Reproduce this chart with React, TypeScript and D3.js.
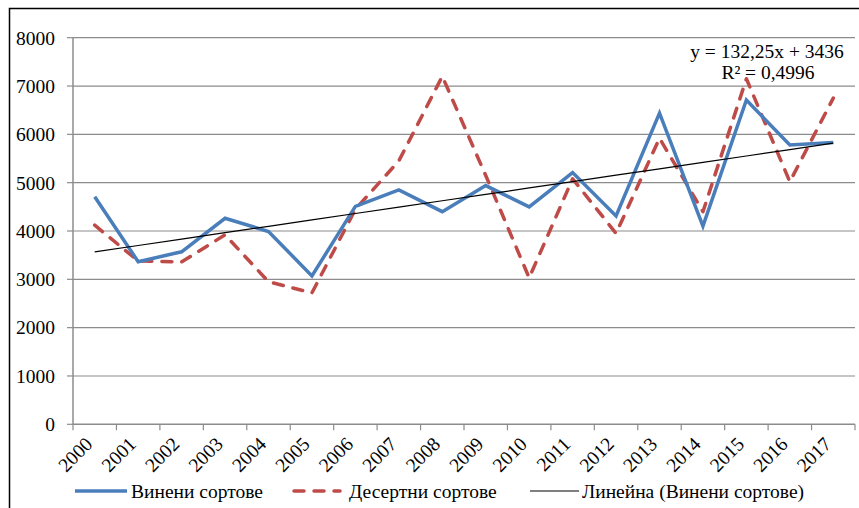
import React from "react";
import * as d3 from "d3";

// Data
const years = [
  "2000", "2001", "2002", "2003", "2004", "2005", "2006", "2007", "2008",
  "2009", "2010", "2011", "2012", "2013", "2014", "2015", "2016", "2017",
];
const wineValues = [
  4710, 3365, 3570, 4263, 3990, 3070, 4510, 4850, 4400,
  4940, 4500, 5210, 4310, 6440, 4100, 6710, 5780, 5830,
];
const dessertValues = [
  4120, 3380, 3360, 3920, 2950, 2720, 4450, 5450, 7200,
  5150, 3030, 5080, 3950, 5920, 4400, 7150, 5020, 6750,
];
const yTicks = [0, 1000, 2000, 3000, 4000, 5000, 6000, 7000, 8000];
// Linear trend of the wine series, as printed on the chart
const trendSlope = 132.25;
const trendIntercept = 3436;
const trendLabel = "y = 132,25x + 3436";
const r2Label = "R² = 0,4996";
const legendLabels = ["Винени сортове", "Десертни сортове", "Линейна (Винени сортове)"];

const BLUE = "#4A7EBB";
const RED = "#BE4B48";
const GRID = "#8C8C8C";
const FONT = "'Liberation Serif', 'Times New Roman', serif";
const FS = 19.5;

const App: React.FC = () => {
  const width = 859;
  const height = 508;
  const margin = { top: 37.7, right: 4, bottom: 83.7, left: 73 };
  const innerBottom = height - margin.bottom;
  const innerRight = width - margin.right;

  const x = d3
    .scaleBand<string>()
    .domain(years)
    .range([margin.left, innerRight]);
  const cx = (d: string) => (x(d) || 0) + x.bandwidth() / 2;

  const y = d3.scaleLinear().domain([0, 8000]).range([innerBottom, margin.top]);

  const line = d3
    .line<number>()
    .x((_, i) => cx(years[i]))
    .y((d) => y(d));

  const trend = years.map((_, i) => trendSlope * (i + 1) + trendIntercept);

  // category boundary ticks
  const boundaries = years.map((d) => x(d) || 0).concat([innerRight]);

  return (
    <svg
      width={width}
      height={height}
      style={{ position: "absolute", left: 0, top: 0, background: "#fff" }}
      fontFamily={FONT}
    >
      {/* outer frame */}
      <rect x={9.5} y={8.5} width={870} height={520} fill="none" stroke="#000" strokeWidth={1.5} />

      {/* gridlines */}
      {yTicks.slice(1).map((t) => (
        <line key={t} x1={margin.left} x2={innerRight} y1={y(t)} y2={y(t)} stroke={GRID} strokeWidth={1.2} />
      ))}

      {/* y axis */}
      <line x1={margin.left} x2={margin.left} y1={margin.top} y2={innerBottom} stroke={GRID} strokeWidth={1.5} />
      {yTicks.map((t) => (
        <g key={t}>
          <line x1={margin.left - 6} x2={margin.left} y1={y(t)} y2={y(t)} stroke={GRID} strokeWidth={1.2} />
          <text x={55} y={y(t)} dy="0.35em" textAnchor="end" fontSize={FS} fill="#000">
            {t}
          </text>
        </g>
      ))}

      {/* x axis */}
      <line x1={margin.left} x2={innerRight} y1={innerBottom} y2={innerBottom} stroke={GRID} strokeWidth={1.5} />
      {boundaries.map((b, i) => (
        <line key={i} x1={b} x2={b} y1={innerBottom} y2={innerBottom + 6} stroke={GRID} strokeWidth={1.2} />
      ))}
      {years.map((d) => (
        <text
          key={d}
          transform={`translate(${cx(d) - 1}, ${innerBottom + 21}) rotate(-45)`}
          textAnchor="end"
          fontSize={FS}
          fill="#000"
        >
          {d}
        </text>
      ))}

      {/* series */}
      <path d={line(dessertValues) || ""} fill="none" stroke={RED} strokeWidth={3.5} strokeDasharray="10 10" strokeLinecap="round" strokeLinejoin="round" />
      <path d={line(wineValues) || ""} fill="none" stroke={BLUE} strokeWidth={3.5} strokeLinejoin="miter" />
      <path d={line(trend) || ""} fill="none" stroke="#000" strokeWidth={1.2} />

      {/* trend equation */}
      <text x={767} y={58} textAnchor="middle" fontSize={FS} fill="#000">
        {trendLabel}
      </text>
      <text x={768} y={79} textAnchor="middle" fontSize={FS} fill="#000">
        {r2Label}
      </text>

      {/* legend */}
      <g>
        <line x1={75} x2={127} y1={491} y2={491} stroke={BLUE} strokeWidth={3.5} />
        <text x={131} y={498} fontSize={FS} fill="#000">{legendLabels[0]}</text>
        <line x1={294} x2={340} y1={491} y2={491} stroke={RED} strokeWidth={3.5} strokeDasharray="10 10" strokeLinecap="round" />
        <text x={349} y={498} fontSize={FS} fill="#000">{legendLabels[1]}</text>
        <line x1={530} x2={579} y1={491} y2={491} stroke="#000" strokeWidth={1.2} />
        <text x={582} y={498} fontSize={FS} fill="#000">{legendLabels[2]}</text>
      </g>
    </svg>
  );
};

export default App;
